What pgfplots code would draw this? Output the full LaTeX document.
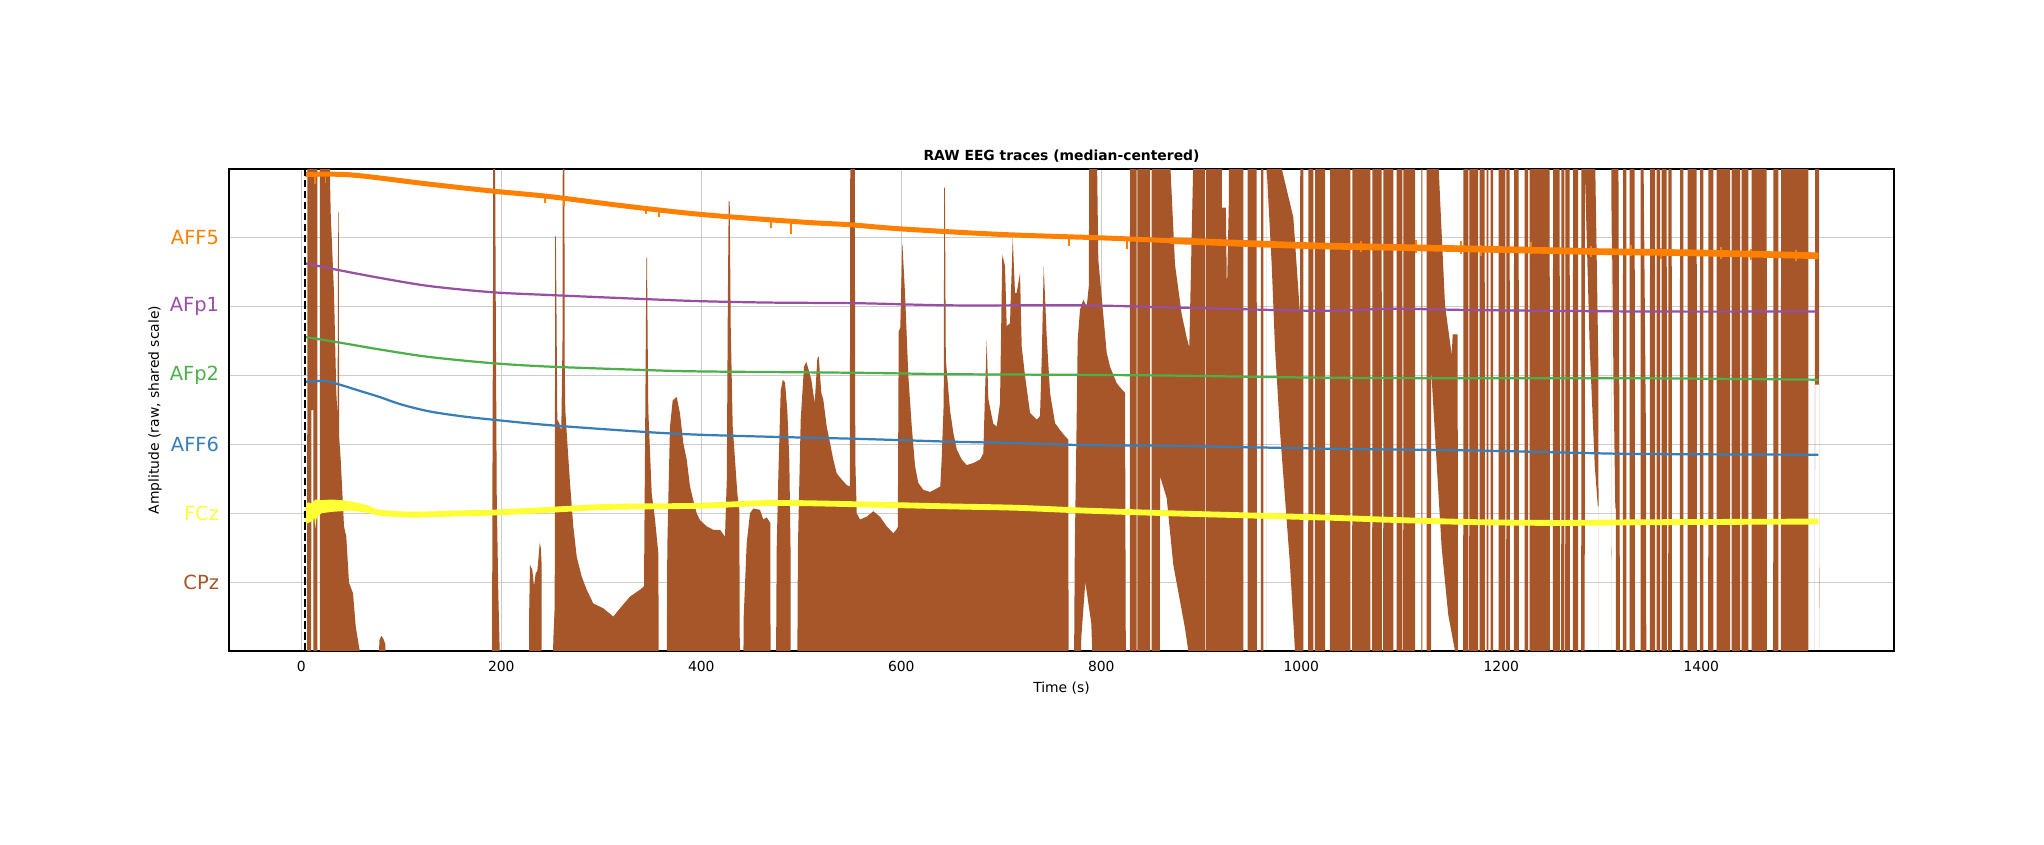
\documentclass[border=0pt]{standalone}
\usepackage{fontspec}
\setmainfont{DejaVu Sans}
\usepackage{pgfplots}
\pgfplotsset{compat=1.18}
\usepgfplotslibrary{fillbetween}
\definecolor{cAFF5}{HTML}{FF7F00}
\definecolor{cAFp1}{HTML}{984EA3}
\definecolor{cAFp2}{HTML}{4DAF4A}
\definecolor{cAFF6}{HTML}{377EB8}
\definecolor{cFCz}{HTML}{FFFF33}
\definecolor{cCPz}{HTML}{A65628}
\begin{document}
\begin{tikzpicture}
\path (0,0) rectangle (1471.68pt,607.68pt);
\begin{axis}[
  at={(164.88pt,138.96pt)}, anchor=south west,
  scale only axis, width=1198.8pt, height=347.04pt,
  xmin=-72.3, xmax=1592.7, ymin=-1, ymax=6,
  xtick={0,200,400,600,800,1000,1200,1400},
  xticklabels={0,200,400,600,800,1000,1200,1400},
  ytick={0,1,2,3,4,5},
  yticklabels={{\textcolor{cCPz}{CPz}},{\textcolor{cFCz}{FCz}},{\textcolor{cAFF6}{AFF6}},{\textcolor{cAFp2}{AFp2}},{\textcolor{cAFp1}{AFp1}},{\textcolor{cAFF5}{AFF5}}},
  grid=major, major grid style={black!20, line width=0.8pt},
  major tick length=0pt,
  axis line style={black, line width=0.8pt},
  xticklabel style={anchor=north, yshift=-7pt, inner sep=0pt, font=\fontsize{10}{12}\selectfont},
  yticklabel style={anchor=east, xshift=-7pt, inner sep=0pt, font=\fontsize{14}{16}\selectfont},
  title={RAW EEG traces (median-centered)},
  every axis title/.style={at={(axis description cs:0.5,1)}, anchor=base, yshift=6pt, inner sep=0pt, font=\bfseries\fontsize{10}{12}\selectfont},
  xlabel={Time (s)},
  every axis x label/.style={at={(axis description cs:0.5,0)}, anchor=north, yshift=-22pt, inner sep=0pt, font=\fontsize{10}{12}\selectfont},
  ylabel={Amplitude (raw, shared scale)},
  every axis y label/.style={at={(axis description cs:0,0.5)}, xshift=-53.3pt, rotate=90, anchor=center, inner sep=0pt, font=\fontsize{10}{12}\selectfont},
  unbounded coords=jump,
]
% CPz: upper and lower envelope of the dense raw trace
\addplot[draw=none, name path=U] coordinates {
(4,-1.5) (5.9,-1.5) (6,6.5) (16,6.5) (16.1,-1.5) (18.6,-1.5) (18.7,6.5) (27.7,6.5) (28.5,6.0) (29.4,5.36) (32.7,4.2) (35,2.75) (36.3,2.4) (36.8,5.37) (37.4,5.37) (37.9,2.1) (39.4,1.78) (42.7,0.81) (45,0.66) (47.7,-0.01) (51.7,-0.16) (54.4,-0.64) (58.4,-1.0) (58.6,-1.5)
(77.5,-1.5) (78,-0.85) (80,-0.78) (82,-0.82) (84,-0.9) (84.4,-1.5)
(190.8,-1.5) (191,0.8) (191.7,4.2) (192,6.5) (193.7,6.5) (194.4,4.2) (195.4,1.3) (197,-0.16) (198.4,-1.0) (198.6,-1.5)
(227.6,-1.5) (227.8,-0.5) (228.7,0.25) (231,0.18) (232.7,-0.06) (234.4,0.13) (236,0.16) (237.5,0.4) (238.4,0.57) (239.5,0.5) (240.2,0.3) (240.4,-1.5)
(251.3,-1.5) (252,-0.84) (253.4,-0.35) (253.9,5.02) (254.6,5.02) (256,2.36) (258,2.31) (260,2.2) (261.2,3.5) (261.5,6.5) (263,6.5) (263.4,3.2) (264,2.5) (265.4,2.17) (268.7,1.44) (272,0.81) (275.4,0.37) (280.4,0.08) (285.4,-0.11) (292,-0.31) (302,-0.38) (312,-0.5) (318.7,-0.38) (328.7,-0.21) (338.7,-0.11) (342.7,-0.06) (343.5,1.5) (344.5,3.5) (345.1,4.71) (345.7,4.71) (346.3,3.6) (347,2.5) (350.4,1.29) (353.7,0.91) (356,0.57) (357,0.42) (357.6,-1.5)
(365.3,-1.5) (366,0.5) (367,1.2) (368.7,2.26) (371.4,2.64) (375.4,2.69) (378.7,2.45) (382,2.02) (385.4,1.78) (388.7,1.39) (392,1.19) (395.4,1.0) (398.7,0.9) (405.4,0.81) (412,0.76) (418.7,0.76) (423.7,0.66) (425.5,1.5) (426.5,4.0) (427.4,5.53) (428.4,5.53) (429.4,3.72) (431.4,2.26) (433.7,1.78) (436,1.29) (438,1.05) (438.6,-1.5)
(441.9,-1.5) (442.4,-0.5) (445.4,0.57) (448.7,1.0) (452,1.07) (458.7,1.05) (462,0.91) (465.4,0.94) (469,0.86) (469.3,-1.5)
(474.6,-1.5) (475.4,0.5) (477,1.53) (479.4,2.78) (481.5,2.94) (483.7,2.9) (486,2.5) (488,1.78) (489.2,0.5) (489.4,-1.5)
(495.9,-1.5) (496.6,0.5) (499.4,2.36) (502.7,3.13) (505,3.2) (507.4,3.08) (510,2.94) (513.4,2.6) (516,3.24) (517.4,3.28) (520,2.75) (522,2.65) (525.4,2.26) (528.7,2.02) (532,1.78) (535.4,1.58) (540.4,1.49) (545.4,1.41) (548.5,1.39) (549,6.5) (553.4,6.5) (554,1.78) (555.4,1.0) (558.7,0.91) (565.4,0.95) (572,1.03) (578.7,0.95) (585.4,0.81) (592,0.71) (595,0.76) (596.5,0.8) (597.4,3.64) (599,3.7) (601,4.93) (603.7,4.2) (607,3.0) (610.4,2.27) (613.7,1.69) (617,1.44) (622,1.34) (628.7,1.31) (635.4,1.36) (639,1.39) (640.4,1.8) (642.4,2.6) (642.9,5.73) (643.6,5.73) (644.5,3.23) (648.7,2.5) (652,2.17) (655.4,1.93) (660.4,1.78) (665.4,1.7) (672,1.73) (678.7,1.78) (682,1.87) (683.7,2.74) (685.4,3.52) (687,2.66) (692,2.3) (695.4,2.26) (698.7,2.6) (701,4.76) (703.7,4.59) (705.4,3.72) (708.7,3.76) (711.4,5.0) (713.7,4.2) (715.4,4.2) (718.7,4.49) (720.4,3.42) (723.7,3.0) (728.7,2.46) (735.4,2.36) (738.7,2.41) (740.4,3.23) (742.4,4.59) (745.4,3.57) (748.7,2.75) (753.7,2.31) (758.7,2.21) (763.7,2.12) (767,2.07) (767.3,-1.5)
(772.6,-1.5) (773.5,0.5) (775,2.0) (776.4,3.52) (778.7,3.96) (782,4.1) (785.4,4.0) (787.5,4.3) (788,6.5) (795.4,6.5) (797,4.68) (799.4,4.3) (805.4,3.33) (808.7,3.13) (815.4,2.89) (820.4,2.8) (823.7,2.75) (824.6,-1.5)
(828.6,-1.5) (828.7,6.5) (835.3,6.5) (835.4,-1.5) (836,-1.5) (836.1,6.5) (848.7,6.5) (848.8,-1.5) (850.3,-1.5) (850.4,6.5) (868.7,6.5) (869.2,6.0) (873.7,4.61) (880.4,3.89) (885.4,3.55) (888,3.41) (891.8,6.0) (892,6.5)
(903.7,6.5) (903.8,-1.5) (904.6,-1.5) (904.7,6.5) (920.4,6.5) (920.5,5.44) (924.6,5.44) (925.6,4.2) (927.5,5.5) (927.7,6.5) (942,6.5) (942.1,-1.5) (946.3,-1.5) (946.4,6.5) (955.4,6.5) (955.5,-1.5) (959.6,-1.5) (959.7,6.5) (962,6.5) (962.1,-1.5) (965.3,-1.5) (965.4,6.5) (980.4,6.5) (980.5,6.0) (992,5.3) (998.7,3.89) (999,6.5) (1002,6.5) (1002.1,-1.5) (1006.9,-1.5) (1007,6.5) (1012,6.5) (1012.1,-1.5) (1013.6,-1.5) (1013.7,6.5) (1023.7,6.5) (1023.8,-1.5) (1028.6,-1.5) (1028.7,6.5) (1049,6.5) (1049.1,-1.5) (1050.9,-1.5) (1051,6.5) (1069,6.5) (1069.1,-1.5) (1070.9,-1.5) (1071,6.5) (1080.4,6.5) (1080.5,-1.5) (1081.9,-1.5) (1082,6.5) (1092,6.5) (1092.1,-1.5) (1095.3,-1.5) (1095.4,6.5) (1101,6.5) (1101.1,-1.5) (1101.9,-1.5) (1102,6.5) (1113.7,6.5) (1113.8,-1.5) (1120,-1.5) (1120.1,6.5) (1121,6.5) (1121.1,-1.5) (1125.3,-1.5) (1125.4,6.5) (1137,6.5) (1137.4,6.0) (1143.7,4.02) (1150.4,3.3) (1151.4,3.6) (1156.4,3.6) (1156.5,-1.5) (1161.9,-1.5) (1162,6.5) (1167,6.5) (1167.1,-1.5) (1167.9,-1.5) (1168,6.5) (1176.7,6.5) (1176.8,-1.5) (1178.3,-1.5) (1178.4,6.5) (1183.4,6.5) (1183.5,-1.5) (1185.3,-1.5) (1185.4,6.5) (1187,6.5) (1187.1,-1.5) (1189.3,-1.5) (1189.4,6.5) (1191.7,6.5) (1191.8,-1.5) (1197.3,-1.5) (1197.4,6.5) (1204,6.5) (1204.1,-1.5) (1204.9,-1.5) (1205,6.5) (1208.4,6.5) (1208.5,-1.5) (1212.6,-1.5) (1212.7,6.5) (1217.4,6.5) (1217.5,-1.5) (1223.3,-1.5) (1223.4,6.5) (1226.7,6.5) (1226.8,-1.5) (1228.3,-1.5) (1228.4,6.5) (1248.4,6.5) (1248.5,-1.5) (1251.6,-1.5) (1251.7,6.5) (1258.4,6.5) (1258.5,-1.5) (1259.9,-1.5) (1260,6.5) (1263,6.5) (1263.1,-1.5) (1263.9,-1.5) (1264,6.5) (1268.4,6.5) (1268.5,-1.5) (1271.6,-1.5) (1271.7,6.5) (1276.7,6.5) (1276.8,-1.5) (1279.9,-1.5) (1280,6.5) (1293.4,6.5) (1294,6.0) (1297,3.2) (1297.2,1.1) (1297.3,-1.5) (1309.9,-1.5) (1310,6.5) (1317,6.5) (1318.4,1.0) (1318.5,-1.5) (1321.6,-1.5) (1321.7,6.5) (1325,6.5) (1325.1,-1.5) (1328.3,-1.5) (1328.4,6.5) (1333.4,6.5) (1333.5,-1.5) (1339.3,-1.5) (1339.4,6.5) (1342,6.5) (1343.5,4.0) (1344.7,2.0) (1345,-1.5) (1348.6,-1.5) (1348.7,6.5) (1353.7,6.5) (1353.8,-1.5) (1355.3,-1.5) (1355.4,6.5) (1358.7,6.5) (1358.8,-1.5) (1360.3,-1.5) (1360.4,6.5) (1365.4,6.5) (1365.5,-1.5) (1366.9,-1.5) (1367,6.5) (1370.4,6.5) (1370.5,-1.5) (1378.6,-1.5) (1378.7,6.5) (1382,6.5) (1382.1,-1.5) (1386.3,-1.5) (1386.4,6.5) (1395.4,6.5) (1395.5,-1.5) (1398.6,-1.5) (1398.7,6.5) (1402,6.5) (1402.1,-1.5) (1406.9,-1.5) (1407,6.5) (1412,6.5) (1412.1,-1.5) (1415.3,-1.5) (1415.4,6.5) (1428.7,6.5) (1428.8,-1.5) (1430.3,-1.5) (1430.4,6.5) (1438.7,6.5) (1438.8,-1.5) (1440.3,-1.5) (1440.4,6.5) (1447,6.5) (1447.1,-1.5) (1450.3,-1.5) (1450.4,6.5) (1465.4,6.5) (1465.5,-1.5) (1471.9,-1.5) (1472,6.5) (1477,6.5) (1477.1,-1.5) (1479.6,-1.5) (1479.7,6.5) (1507,6.5) (1507.1,-1.5) (1513.6,-1.5) (1513.7,6.5) (1517.7,6.5) (1517.8,2.87) (1518,-1.5)
};
\addplot[draw=none, name path=L] coordinates {
(4,-1.5) (9.9,-1.5) (10,2.5) (12,2.5) (12.1,-1.5) (779,-1.5) (780,-0.8) (784,0.0) (790,-0.6) (792,-1.5) (858.6,-1.5) (858.7,1.54) (865.4,1.22) (872,0.25) (879,-0.3) (883.7,-0.67) (887,-1.0) (887.5,-1.5) (965.3,-1.5) (965.4,6.0) (970.4,4.61) (973.7,3.4) (978.7,2.19) (983.7,1.22) (988.7,0.25) (993.7,-1.0) (994,-1.5) (1129.7,-1.5) (1129.8,3.1) (1135.4,1.71) (1140.4,0.49) (1147,-0.48) (1151.4,-0.82) (1153.7,-1.0) (1154,-1.5) (1283.4,-1.5) (1283.5,6.0) (1288.4,3.4) (1293.4,1.7) (1296.5,1.1) (1297.2,1.1) (1297.3,-1.5) (1309.9,-1.5) (1310,6.0) (1312,3.16) (1314,1.07) (1314.5,1.07) (1314.6,-1.5) (1513.6,-1.5) (1513.7,2.87) (1517.7,2.87) (1518,-1.5)
};
\addplot[fill=cCPz, draw=none] fill between[of=U and L];
% FCz (yellow), noisy start and main trace
\addplot[fill=cFCz, draw=none] coordinates {
(4,1.12) (7,1.16) (10,1.14) (14,1.2) (20,1.19) (30,1.2) (40,1.19) (50,1.17) (60,1.14) (70,1.1)
(70,1.0) (60,1.02) (50,1.04) (40,1.03) (30,1.02) (20,1.0) (15,0.92) (14,0.78) (13,0.93) (10,0.88) (7,0.86) (4,0.84)
};
\addplot[cFCz, line width=4.2pt, smooth, tension=0.5] coordinates {
(4,0.98) (10,1.05) (24,1.10) (44,1.11) (61,1.08) (78,1.01) (111,0.98) (161,1.0) (191,1.01) (248,1.05) (300,1.09) (345,1.10) (400,1.11) (472,1.15) (559,1.13) (649,1.10) (715,1.08) (782,1.04) (869,1.0) (1019,0.94) (1100,0.9) (1179,0.87) (1260,0.86) (1347,0.87) (1517,0.88)
};
% AFF6 (blue)
\addplot[cAFF6, line width=1.6pt, smooth, tension=0.5] coordinates {
(4,2.91) (24,2.92) (38,2.87) (58,2.78) (78,2.69) (100,2.58) (128,2.48) (160,2.41) (191,2.36) (248,2.28) (345,2.18) (400,2.14) (472,2.11) (559,2.08) (649,2.04) (715,2.02) (782,1.99) (869,1.98) (1019,1.94) (1179,1.91) (1300,1.87) (1347,1.86) (1517,1.85)
};
% AFp2 (green)
\addplot[cAFp2, line width=1.6pt, smooth, tension=0.5] coordinates {
(4,3.56) (38,3.48) (78,3.38) (128,3.27) (191,3.18) (248,3.13) (345,3.08) (400,3.06) (559,3.04) (649,3.02) (782,3.01) (869,3.0) (1019,2.97) (1179,2.96) (1347,2.96) (1517,2.94)
};
% AFp1 (purple)
\addplot[cAFp1, line width=1.6pt, smooth, tension=0.5] coordinates {
(4,4.63) (38,4.53) (78,4.42) (128,4.30) (191,4.21) (248,4.17) (345,4.11) (400,4.08) (469,4.06) (559,4.05) (649,4.02) (782,4.02) (869,3.99) (1019,3.94) (1090,3.97) (1179,3.95) (1347,3.93) (1517,3.93)
};
% AFF5 (orange)
\addplot[cAFF5, line width=3.6pt, smooth, tension=0.5] coordinates {
(4,5.92) (24,5.925) (44,5.92) (60,5.9) (78,5.87) (128,5.78) (191,5.68) (248,5.6) (325,5.46) (400,5.34) (500,5.23) (549,5.19) (600,5.13) (699,5.05) (800,5.0) (869,4.96) (1000,4.89) (1100,4.86) (1200,4.83) (1300,4.80) (1400,4.78) (1517,4.74)
};
\addplot[cAFF5, line width=4.8pt, smooth, tension=0.5] coordinates {
(869,4.96) (1000,4.89) (1100,4.86) (1200,4.83) (1300,4.80) (1400,4.78) (1517,4.74)
};
\addplot[cAFF5, line width=1.4pt] coordinates {
(13.8,5.95) (13.8,5.78) (13.8,nan) (24.2,5.96) (24.2,5.80) (24.2,nan)
(243.3,5.62) (243.3,5.50) (243.3,nan) (262.3,5.59) (262.3,5.46) (262.3,nan)
(344.3,5.45) (344.3,5.35) (344.3,nan) (357.3,5.43) (357.3,5.30) (357.3,nan)
(469.3,5.28) (469.3,5.15) (469.3,nan) (489.3,5.26) (489.3,5.06) (489.3,nan)
(767.3,5.03) (767.3,4.88) (767.3,nan) (825.3,5.01) (825.3,4.84) (825.3,nan)
(1060,4.96) (1060,4.80) (1060,nan) (1115,4.97) (1115,4.78) (1115,nan)
(1160,4.95) (1160,4.77) (1160,nan) (1180,4.90) (1180,4.74) (1180,nan)
(1230,4.94) (1230,4.76) (1230,nan) (1290,4.88) (1290,4.72) (1290,nan)
(1330,4.90) (1330,4.73) (1330,nan) (1360,4.86) (1360,4.70) (1360,nan)
(1420,4.87) (1420,4.70) (1420,nan) (1450,4.84) (1450,4.68) (1450,nan)
(1495,4.82) (1495,4.67)
};
% event marker
\addplot[black, line width=1.5pt, dash pattern=on 5.55pt off 2.4pt] coordinates {(4,-1) (4,6)};
\end{axis}
\pgfresetboundingbox
\useasboundingbox (0,0) rectangle (1471.68pt,607.68pt);
\end{tikzpicture}
\end{document}
